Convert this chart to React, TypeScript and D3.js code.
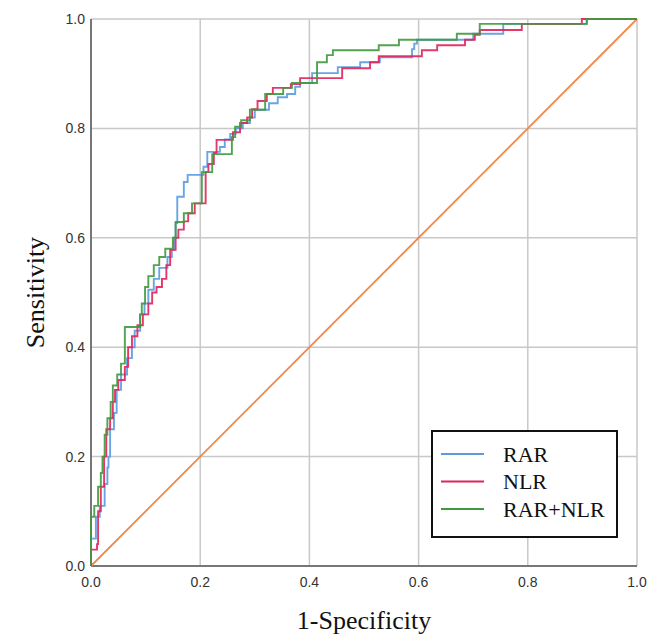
import React from 'react';
import * as d3 from 'd3';

// ROC step corners: [1-specificity, sensitivity], the curve rises to y at x
const rarPoints: [number, number][] = [
  [0, 0], [0, 0.05], [0.009, 0.09], [0.016, 0.11], [0.025, 0.15], [0.03, 0.18],
  [0.032, 0.2], [0.035, 0.25], [0.042, 0.28], [0.047, 0.322], [0.055, 0.35],
  [0.066, 0.38], [0.075, 0.4], [0.08, 0.43], [0.09, 0.46], [0.098, 0.48],
  [0.105, 0.505], [0.115, 0.525], [0.125, 0.545], [0.14, 0.565], [0.148, 0.578],
  [0.152, 0.6], [0.155, 0.627], [0.158, 0.675], [0.17, 0.702], [0.177, 0.715],
  [0.206, 0.73], [0.213, 0.757], [0.236, 0.766], [0.245, 0.78], [0.255, 0.79],
  [0.265, 0.8], [0.278, 0.81], [0.291, 0.82], [0.3, 0.834], [0.326, 0.846],
  [0.342, 0.857], [0.359, 0.863], [0.374, 0.876], [0.383, 0.883], [0.405, 0.901],
  [0.452, 0.912], [0.493, 0.921], [0.529, 0.93], [0.588, 0.945], [0.592, 0.955],
  [0.597, 0.962], [0.7, 0.973], [0.755, 0.991], [0.908, 1], [1, 1],
];

const nlrPoints: [number, number][] = [
  [0, 0], [0, 0.03], [0.011, 0.04], [0.013, 0.1], [0.018, 0.145], [0.024, 0.2],
  [0.028, 0.25], [0.035, 0.27], [0.04, 0.3], [0.044, 0.322], [0.05, 0.34],
  [0.062, 0.364], [0.068, 0.4], [0.075, 0.42], [0.085, 0.44], [0.095, 0.46],
  [0.105, 0.48], [0.112, 0.5], [0.12, 0.51], [0.13, 0.525], [0.138, 0.55],
  [0.145, 0.578], [0.155, 0.6], [0.16, 0.615], [0.17, 0.63], [0.178, 0.645],
  [0.19, 0.663], [0.21, 0.72], [0.215, 0.735], [0.225, 0.755], [0.23, 0.779],
  [0.26, 0.793], [0.273, 0.81], [0.286, 0.82], [0.295, 0.835], [0.305, 0.85],
  [0.322, 0.863], [0.333, 0.874], [0.366, 0.881], [0.383, 0.892], [0.46, 0.91],
  [0.511, 0.921], [0.527, 0.932], [0.606, 0.943], [0.634, 0.952], [0.685, 0.962],
  [0.703, 0.971], [0.712, 0.98], [0.789, 0.991], [0.899, 1], [1, 1],
];

const comboPoints: [number, number][] = [
  [0, 0], [0, 0.09], [0.006, 0.11], [0.013, 0.145], [0.018, 0.17], [0.021, 0.2],
  [0.025, 0.24], [0.03, 0.27], [0.036, 0.3], [0.04, 0.33], [0.048, 0.35],
  [0.055, 0.37], [0.062, 0.437], [0.09, 0.46], [0.093, 0.48], [0.099, 0.51],
  [0.105, 0.53], [0.115, 0.55], [0.125, 0.565], [0.136, 0.58], [0.15, 0.6],
  [0.155, 0.629], [0.17, 0.645], [0.185, 0.663], [0.203, 0.72], [0.222, 0.753],
  [0.258, 0.784], [0.264, 0.803], [0.275, 0.815], [0.291, 0.834], [0.319, 0.863],
  [0.352, 0.874], [0.368, 0.883], [0.414, 0.921], [0.432, 0.934], [0.443, 0.943],
  [0.527, 0.952], [0.564, 0.962], [0.67, 0.973], [0.712, 0.991], [0.908, 1], [1, 1],
];

const ticks = [0, 0.2, 0.4, 0.6, 0.8, 1.0];

const series = [
  { name: 'RAR', color: '#5a9be0', points: rarPoints },
  { name: 'NLR', color: '#e0245a', points: nlrPoints },
  { name: 'RAR+NLR', color: '#3f993f', points: comboPoints },
];

const margin = { left: 91, right: 10, top: 19, bottom: 73 };
const width = 647;
const height = 639;

export default function App() {
  const x = d3.scaleLinear().domain([0, 1]).range([margin.left, width - margin.right]);
  const y = d3.scaleLinear().domain([0, 1]).range([height - margin.bottom, margin.top]);

  const line = d3.line<[number, number]>()
    .x(d => x(d[0]))
    .y(d => y(d[1]))
    .curve(d3.curveStepAfter);

  const tickFont = "'Liberation Sans', Arial, sans-serif";
  const titleFont = "'Liberation Serif', 'Times New Roman', serif";

  // legend box position
  const lg = { x: 432, y: 431, w: 185, h: 106 };

  return (
    <svg width={width} height={height} style={{ position: 'absolute', left: 0, top: 0, background: '#fff' }}>
      {/* grid */}
      {ticks.filter(t => t > 0).map(t => (
        <g key={t}>
          <line x1={x(t)} x2={x(t)} y1={y(0)} y2={y(1)} stroke="#c8c8c8" strokeWidth={1.5} />
          <line x1={x(0)} x2={x(1)} y1={y(t)} y2={y(t)} stroke="#c8c8c8" strokeWidth={1.5} />
        </g>
      ))}
      {/* axes */}
      <line x1={x(0)} x2={x(0)} y1={y(0)} y2={y(1)} stroke="#777" strokeWidth={2} />
      <line x1={x(0)} x2={x(1)} y1={y(0)} y2={y(0)} stroke="#777" strokeWidth={2} />

      {/* tick labels */}
      {ticks.map(t => (
        <text key={'y' + t} x={x(0) - 6} y={y(t)} dy="0.35em" textAnchor="end"
          fontFamily={tickFont} fontSize={14} fill="#333">{t.toFixed(1)}</text>
      ))}
      {ticks.map(t => (
        <text key={'x' + t} x={x(t)} y={y(0) + 21} textAnchor="middle"
          fontFamily={tickFont} fontSize={14} fill="#333">{t.toFixed(1)}</text>
      ))}

      {/* reference diagonal */}
      <line x1={x(0)} y1={y(0)} x2={x(1)} y2={y(1)} stroke="#f0884c" strokeWidth={1.8} />

      {/* ROC curves */}
      {series.map(s => (
        <path key={s.name} d={line(s.points) || ''} fill="none" stroke={s.color}
          strokeWidth={1.9} strokeOpacity={0.9} />
      ))}

      {/* axis titles */}
      <text x={(x(0) + x(1)) / 2} y={629} textAnchor="middle" fontFamily={titleFont}
        fontSize={26} fill="#111">1-Specificity</text>
      <text transform={`translate(44,${(y(0) + y(1)) / 2}) rotate(-90)`} textAnchor="middle"
        fontFamily={titleFont} fontSize={26} fill="#111">Sensitivity</text>

      {/* legend */}
      <rect x={lg.x} y={lg.y} width={lg.w} height={lg.h} fill="#fff" stroke="#111" strokeWidth={2} />
      {series.map((s, i) => (
        <g key={'lg' + s.name}>
          <line x1={lg.x + 9} x2={lg.x + 52} y1={lg.y + 23 + i * 27.5} y2={lg.y + 23 + i * 27.5}
            stroke={s.color} strokeWidth={2} />
          <text x={lg.x + 71} y={lg.y + 23 + i * 27.5} dy="0.35em" fontFamily={titleFont}
            fontSize={22} fill="#111">{s.name}</text>
        </g>
      ))}
    </svg>
  );
}
